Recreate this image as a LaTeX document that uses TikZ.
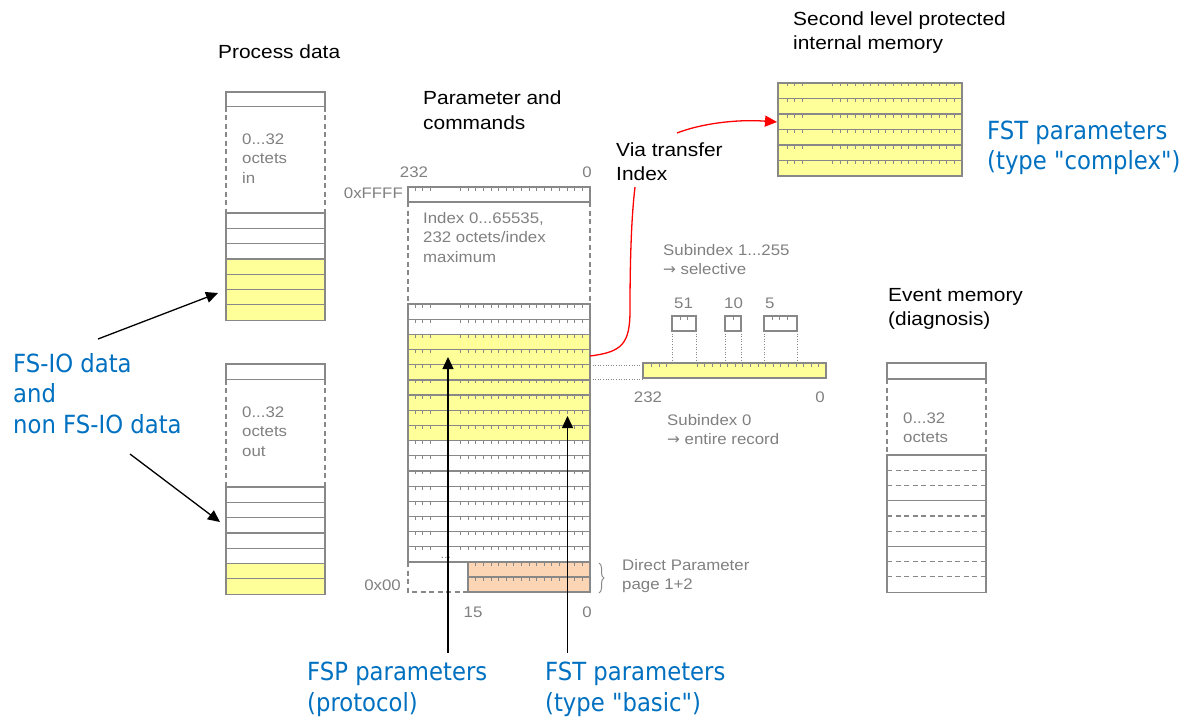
\documentclass[tikz,border=0pt]{standalone}
\usepackage{fontspec}
\setmainfont[FakeStretch=1.1]{Liberation Sans}
\newfontfamily\bluefont[FakeStretch=0.91]{DejaVu Sans}
\newfontfamily\arrowfont{DejaVu Sans}
\usetikzlibrary{arrows.meta,decorations.pathreplacing}

\definecolor{boxline}{HTML}{888888}
\definecolor{txtgray}{HTML}{808080}
\definecolor{cellyellow}{HTML}{FFFF99}
\definecolor{cellpeach}{HTML}{FCD5B4}
\definecolor{fsblue}{HTML}{0070C0}
\definecolor{linkred}{HTML}{FF0000}

% multi-line texts are placed by the baseline of their last line
\tikzset{
  cell/.style={draw=boxline, line width=1.2pt},
  dashedge/.style={draw=boxline, line width=1.2pt, dash pattern=on 5pt off 3.5pt},
  tickmark/.style={draw=boxline, line width=1pt},
  dotlink/.style={draw=boxline, line width=0.9pt, dash pattern=on 1pt off 1.6pt},
  title/.style={font=\fontsize{19}{24.5}\selectfont, text=black, align=left, inner sep=0pt, anchor=base west},
  graytext/.style={font=\fontsize{15.3}{19.5}\selectfont, text=txtgray, align=left, inner sep=0pt, anchor=base west},
  bluetext/.style={font=\bluefont\fontsize{25}{30.5}\selectfont, text=fsblue, align=left, inner sep=0pt, anchor=base west},
  pointer/.style={draw=black, line width=1.3pt, -{Triangle[length=12pt,width=11pt]}},
  redlink/.style={draw=linkred, line width=1.3pt},
}
\newcommand\rarr{{\arrowfont →}}

% ticks along the top edge of one memory row:
% #1 left edge, #2 top edge, #3 offset of the first tick, #4 index of the first tick drawn
\newcommand\rowticks[4]{%
  \foreach \k in {#4,...,22}{%
    \ifnum\k<3 \draw[tickmark] ({#1+#3+7.6*\k},#2) -- ++(0,3.5);\else
    \ifnum\k>5 \draw[tickmark] ({#1+#3+7.6*\k},#2) -- ++(0,3.5);\fi\fi
  }%
}

\begin{document}
\begin{tikzpicture}[x=1pt,y=-1pt]
\useasboundingbox (0,0) rectangle (1181,717);

%--- Process data ----------------------------------------------------
\node[title] (pdtitle) at (218,59) {Process data};
% inputs
\draw[cell] (226,92) rectangle (325,106.5);
\draw[dashedge] (226,106.5) -- (226,213) (325,106.5) -- (325,213);
\node[graytext] (pdin) at (242,183) {0...32\\octets\\in};
\foreach \i in {0,1,2} \draw[cell] (226,213+15.3*\i) rectangle (325,228.3+15.3*\i);
\foreach \i in {3,...,6} \draw[cell,fill=cellyellow] (226,213+15.3*\i) rectangle (325,228.3+15.3*\i);
% outputs
\draw[cell] (226,364) rectangle (325,379.5);
\draw[dashedge] (226,379.5) -- (226,487) (325,379.5) -- (325,487);
\node[graytext] (pdout) at (242,456) {0...32\\octets\\out};
\foreach \i in {0,...,4} \draw[cell] (226,487+15.3*\i) rectangle (325,502.3+15.3*\i);
\foreach \i in {5,6} \draw[cell,fill=cellyellow] (226,487+15.3*\i) rectangle (325,502.3+15.3*\i);
\coordinate (inslot) at (218,293);
\coordinate (outslot) at (220,522);

%--- Parameters and commands ----------------------------------------
\node[title] (partitle) at (423,129) {Parameter and\\commands};
\node[graytext, anchor=base] (bithi) at (414,177) {232};
\node[graytext, anchor=base] (bitlo) at (587,177) {0};
\node[graytext, anchor=base east] (addrhi) at (403,198) {0xFFFF};
\draw[cell] (408,187) rectangle (590,202);
\rowticks{408}{187}{7}{0}
\draw[dashedge] (408,202) -- (408,304) (590,202) -- (590,304);
\node[graytext] (idxnote) at (423,262) {Index 0...65535,\\232 octets/index\\maximum};
\foreach \i in {0,...,16}{
  \pgfmathsetmacro\yy{304+15.18*\i}
  \ifnum\i<2 \def\cellfill{white}\else\ifnum\i>8 \def\cellfill{white}\else\def\cellfill{cellyellow}\fi\fi
  \draw[cell,fill=\cellfill] (408,\yy) rectangle (590,\yy+15.18);
  \rowticks{408}{\yy}{7}{0}
}
\node[text=txtgray, font=\fontsize{11}{11}\selectfont, inner sep=0pt, anchor=base] (gapdots) at (446,558) {...};
% direct parameter pages
\draw[cell,fill=cellpeach] (468,562) rectangle (590,577);
\draw[cell,fill=cellpeach] (468,577) rectangle (590,592);
\rowticks{408}{562}{7}{8}
\rowticks{408}{577}{7}{8}
\draw[dashedge] (408,562) -- (408,592) -- (468,592);
\node[graytext, anchor=base east] (addrlo) at (401,590) {0x00};
\node[graytext, anchor=base] (bit15) at (473,617) {15};
\node[graytext, anchor=base] (bit0) at (587,617) {0};
\draw[draw=boxline, line width=1pt, decorate, decoration={brace, amplitude=5pt}] (599,563) -- (599,593);
\node[graytext] (dirpar) at (622,589.5) {Direct Parameter\\page 1+2};

%--- Subindex access ---------------------------------------------------
\node[graytext] (subsel) at (663,274.5) {Subindex 1...255\\\rarr{} selective};
\node[graytext] (lbl51) at (674,308) {51};
\node[graytext] (lbl10) at (724,308) {10};
\node[graytext] (lbl5) at (765,308) {5};
\draw[cell] (672,316) rectangle (696,331);
\draw[cell] (725,316) rectangle (741,331);
\draw[cell] (764,316) rectangle (797,331);
\foreach \x in {680,687.5,733,772,779.6,787.2} \draw[tickmark] (\x,316) -- ++(0,3.5);
\foreach \x in {672,696,725,741,764,797} \draw[dotlink] (\x,331) -- (\x,363);
\draw[cell,fill=cellyellow] (643,363) rectangle (826,378);
\rowticks{643}{363}{8.7}{0}
\draw[dotlink] (590,365) -- (643,365);
\draw[dotlink] (590,379.5) -- (643,379.5);
\node[graytext, anchor=base] (rec232) at (648,402) {232};
\node[graytext, anchor=base] (rec0) at (820,402) {0};
\node[graytext] (suball) at (667,444.5) {Subindex 0\\\rarr{} entire record};

%--- Second level protected memory ----------------------------------
\node[title] (memtitle) at (793,49.5) {Second level protected\\internal memory};
\foreach \i in {0,...,5}{
  \pgfmathsetmacro\yy{83+15.5*\i}
  \draw[cell,fill=cellyellow] (778,\yy) rectangle (962,\yy+15.5);
  \rowticks{778}{\yy}{9}{0}
}
\node[bluetext] (fstcomplex) at (987,169.5) {FST parameters\\(type "complex")};

%--- Event memory -------------------------------------------------------
\node[title] (evtitle) at (888,325.5) {Event memory\\(diagnosis)};
\draw[cell] (887,363) rectangle (986,379);
\draw[dashedge] (887,379) -- (887,455) (986,379) -- (986,455);
\node[graytext] (evsize) at (903,442.5) {0...32\\octets};
\foreach \i in {0,1,2}{
  \pgfmathsetmacro\yy{455+45.7*\i}
  \draw[cell] (887,\yy) rectangle (986,\yy+45.7);
  \draw[dashedge] (887,\yy+15.2) -- (986,\yy+15.2) (887,\yy+30.4) -- (986,\yy+30.4);
}

%--- Transfer to the protected memory -------------------------------
\node[title] (via) at (616,180.5) {Via transfer\\Index};
\coordinate (viafoot) at (635,187);
\coordinate (viahead) at (677,133);
\coordinate (fstrow) at (590,356);
\coordinate (memslot) at (777,122);
\draw[redlink] (fstrow) .. controls (622,352) and (630,344) .. (630,310) .. controls (630,250) and (632,212) .. (viafoot);
\draw[redlink, -{Triangle[length=12pt,width=11pt]}] (viahead) .. controls (700,124) and (735,119) .. (memslot);

%--- Blue annotations ----------------------------------------------------
\node[bluetext] (fsio) at (13,433) {FS-IO data\\and\\non FS-IO data};
\coordinate (fsiotop) at (98,339);
\coordinate (fsiobot) at (130,454);
\draw[pointer] (fsiotop) -- (inslot);
\draw[pointer] (fsiobot) -- (outslot);

\node[bluetext] (fsp) at (307,711) {FSP parameters\\(protocol)};
\node[bluetext] (fstbasic) at (545,711) {FST parameters\\(type "basic")};
\coordinate (fspfoot) at (448,653);
\coordinate (fsptip) at (448,357);
\coordinate (fstfoot) at (567.5,653);
\coordinate (fsttip) at (567.5,416);
\draw[pointer] (fspfoot) -- (fsptip);
\draw[pointer] (fstfoot) -- (fsttip);
\end{tikzpicture}
\end{document}
